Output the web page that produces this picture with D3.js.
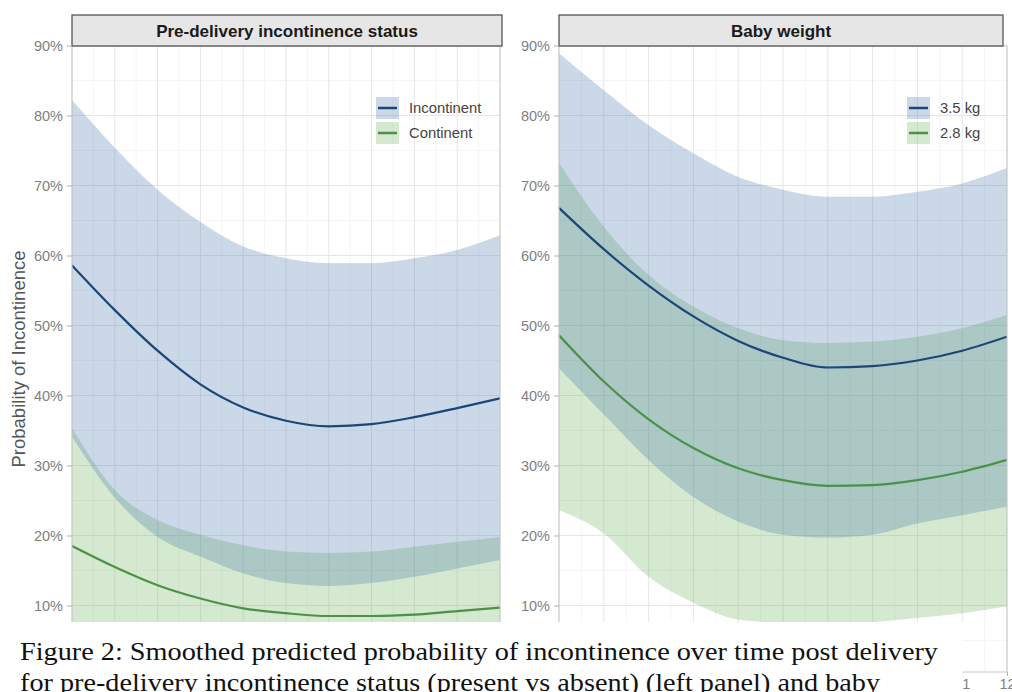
<!DOCTYPE html>
<head>
<meta charset="utf-8">
<script src="https://d3js.org/d3.v7.min.js"></script>
<style>
  * { margin: 0; padding: 0; }
  body { background: #fff; }
  svg { display: block; }
  text { font-family: 'Liberation Sans', Arial, sans-serif; }
</style>
</head>
<body>
<svg id="chart" width="1012" height="692"></svg>
<script>
// months post delivery
const months = [2, 3, 4, 5, 6, 7, 8, 9, 10, 11, 12];

// left panel: pre-delivery incontinence status (% predicted)
const incFit   = [58.6, 52.2, 46.4, 41.6, 38.3, 36.4, 35.6, 35.9, 36.9, 38.2, 39.6];
const incUpper = [82.2, 75.4, 69.4, 64.8, 61.3, 59.6, 58.9, 58.9, 59.6, 60.8, 62.9];
const incLower = [34.1, 25.4, 19.8, 17.0, 14.6, 13.2, 12.8, 13.2, 14.1, 15.3, 16.5];
const conFit   = [18.5, 15.5, 12.9, 11.0, 9.6, 8.9, 8.5, 8.5, 8.7, 9.2, 9.7];
const conUpper = [35.4, 26.5, 22.2, 20.1, 18.6, 17.7, 17.5, 17.7, 18.4, 19.1, 19.8];
const conLower = [7.0, 5.5, 4.5, 3.8, 3.2, 2.9, 2.7, 2.7, 2.8, 3.0, 3.3];

// right panel: baby weight
const w35Fit   = [66.8, 60.9, 55.7, 51.3, 47.8, 45.4, 44.0, 44.2, 45.0, 46.4, 48.4];
const w35Upper = [88.9, 83.6, 78.6, 74.6, 71.2, 69.4, 68.4, 68.4, 69.1, 70.3, 72.5];
const w35Lower = [43.9, 37.3, 30.8, 25.5, 22.0, 20.1, 19.7, 20.1, 21.7, 22.9, 24.1];
const w28Fit   = [48.6, 42.0, 36.6, 32.5, 29.6, 27.9, 27.1, 27.2, 27.9, 29.1, 30.8];
const w28Upper = [73.2, 64.1, 57.2, 52.7, 49.6, 47.9, 47.5, 47.7, 48.4, 49.6, 51.5];
const w28Lower = [23.6, 20.3, 14.1, 10.4, 8.0, 7.5, 7.3, 7.6, 8.2, 8.9, 9.9];

const yTicks = [10, 20, 30, 40, 50, 60, 70, 80, 90];
const yMinor = [5, 15, 25, 35, 45, 55, 65, 75, 85];
const xTicks = months;

const panelTitles = ["Pre-delivery incontinence status", "Baby weight"];
const legendLabels = [["Incontinent", "Continent"], ["3.5 kg", "2.8 kg"]];

const blue = { fill: "rgb(60,110,170)", line: "#1c4677" };
const green = { fill: "rgb(100,175,80)", line: "#4b9148" };

const panels = [
  { x0: 72, x1: 500, sx1: 502, title: panelTitles[0], legend: legendLabels[0], lx: 376,
    series: [
      { fit: incFit, lo: incLower, hi: incUpper, col: blue },
      { fit: conFit, lo: conLower, hi: conUpper, col: green }
    ] },
  { x0: 559, x1: 1007, sx1: 1003, title: panelTitles[1], legend: legendLabels[1], lx: 907,
    series: [
      { fit: w35Fit, lo: w35Lower, hi: w35Upper, col: blue },
      { fit: w28Fit, lo: w28Lower, hi: w28Upper, col: green }
    ] }
];

const svg = d3.select("#chart");
const pTop = 46, pBottom = 672;
const capRight = 963; // caption box covers the axis labels left of this
const y = d3.scaleLinear().domain([0.5, 90]).range([pBottom, 45.5]);

panels.forEach(p => {
  const x = d3.scaleLinear().domain([2, 12]).range([p.x0, p.x1]);
  const g = svg.append("g");

  g.append("defs").append("clipPath").attr("id", "clip" + p.x0)
    .append("rect").attr("x", p.x0).attr("y", pTop).attr("width", p.x1 - p.x0).attr("height", pBottom - pTop);

  // grid
  g.selectAll("line.ymin").data(yMinor).join("line")
    .attr("x1", p.x0).attr("x2", p.x1).attr("y1", d => y(d)).attr("y2", d => y(d))
    .attr("stroke", "#f3f3f3").attr("stroke-width", 0.8);
  g.selectAll("line.xmin").data(xTicks.slice(0, -1)).join("line")
    .attr("x1", d => x(d + 0.5)).attr("x2", d => x(d + 0.5)).attr("y1", pTop).attr("y2", pBottom)
    .attr("stroke", "#f3f3f3").attr("stroke-width", 0.8);
  g.selectAll("line.ymaj").data(yTicks).join("line")
    .attr("x1", p.x0).attr("x2", p.x1).attr("y1", d => y(d)).attr("y2", d => y(d))
    .attr("stroke", "#e6e6e6").attr("stroke-width", 1);
  g.selectAll("line.xmaj").data(xTicks).join("line")
    .attr("x1", d => x(d)).attr("x2", d => x(d)).attr("y1", pTop).attr("y2", pBottom)
    .attr("stroke", "#e6e6e6").attr("stroke-width", 1);

  const marks = g.append("g").attr("clip-path", "url(#clip" + p.x0 + ")");
  // green band first, blue over it (gives the slate overlap)
  p.series.slice().reverse().forEach(s => {
    const area = d3.area()
      .x((d, i) => x(months[i]))
      .y0((d, i) => y(s.lo[i]))
      .y1((d, i) => y(s.hi[i]))
      .curve(d3.curveMonotoneX);
    marks.append("path").datum(s.fit).attr("d", area)
      .attr("fill", s.col.fill).attr("fill-opacity", 0.27);
  });
  p.series.forEach(s => {
    const line = d3.line()
      .x((d, i) => x(months[i]))
      .y(d => y(d))
      .curve(d3.curveMonotoneX);
    marks.append("path").datum(s.fit).attr("d", line)
      .attr("fill", "none").attr("stroke", s.col.line).attr("stroke-width", 2.2);
  });

  // panel border
  g.append("rect").attr("x", p.x0).attr("y", pTop).attr("width", p.x1 - p.x0).attr("height", pBottom - pTop)
    .attr("fill", "none").attr("stroke", "#c8c8c8").attr("stroke-width", 1);

  // strip
  g.append("rect").attr("x", p.x0).attr("y", 15).attr("width", p.sx1 - p.x0).attr("height", pTop - 15)
    .attr("fill", "#e6e6e6").attr("stroke", "#555").attr("stroke-width", 1.3);
  g.append("text").attr("x", (p.x0 + p.sx1) / 2).attr("y", 31).attr("dy", "0.35em")
    .attr("text-anchor", "middle").attr("font-size", "17px").attr("font-weight", "bold")
    .attr("fill", "#1a1a1a").text(p.title);

  // axes
  const ya = g.append("g").attr("transform", `translate(${p.x0},0)`)
    .call(d3.axisLeft(y).tickValues(yTicks).tickFormat(d => d + "%").tickSize(5).tickPadding(4));
  const xa = g.append("g").attr("transform", `translate(0,${pBottom})`)
    .call(d3.axisBottom(x).tickValues(xTicks)
      .tickFormat(d => x(d) > capRight - 10 ? d3.format("d")(d) : "")
      .tickSize(4).tickPadding(3));
  [ya, xa].forEach(a => {
    a.select(".domain").remove();
    a.selectAll("line").attr("stroke", "#b0b0b0");
    a.selectAll("text").attr("fill", "#808080").attr("font-size", "14.5px")
      .attr("font-family", "'Liberation Sans', Arial, sans-serif");
  });

  // legend
  const leg = g.append("g");
  p.legend.forEach((lab, i) => {
    const ky = 97 + i * 25;
    const s = p.series[i];
    leg.append("rect").attr("x", p.lx).attr("y", ky).attr("width", 23).attr("height", 22)
      .attr("fill", s.col.fill).attr("fill-opacity", 0.27);
    leg.append("line").attr("x1", p.lx + 2).attr("x2", p.lx + 21)
      .attr("y1", ky + 11).attr("y2", ky + 11)
      .attr("stroke", s.col.line).attr("stroke-width", 2.5);
    leg.append("text").attr("x", p.lx + 33).attr("y", ky + 11).attr("dy", "0.35em")
      .attr("font-size", "14.8px").attr("fill", "#444").text(lab);
  });
});

// y title
svg.append("text")
  .attr("transform", `translate(25,${(pTop + pBottom) / 2}) rotate(-90)`)
  .attr("text-anchor", "middle").attr("font-size", "18.5px").attr("fill", "#555")
  .text("Probability of Incontinence");

// caption overlay
svg.append("rect").attr("x", 0).attr("y", 622).attr("width", capRight).attr("height", 70).attr("fill", "#fff");
const cap = svg.append("g").attr("font-size", "26px").attr("fill", "#111");
cap.append("text").attr("x", 20).attr("y", 660).attr("textLength", 918).attr("lengthAdjust", "spacingAndGlyphs")
  .style("font-family", "'Liberation Serif', serif")
  .text("Figure 2: Smoothed predicted probability of incontinence over time post delivery");
cap.append("text").attr("x", 20).attr("y", 691).attr("textLength", 860).attr("lengthAdjust", "spacingAndGlyphs")
  .style("font-family", "'Liberation Serif', serif")
  .text("for pre-delivery incontinence status (present vs absent) (left panel) and baby");
</script>
</body>
</html>
